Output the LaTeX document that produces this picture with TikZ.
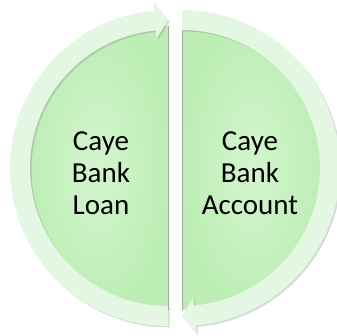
\documentclass[tikz,border=0pt]{standalone}
\usepackage{fontspec}
\setmainfont{Carlito}
\usetikzlibrary{shadows}
\definecolor{ringgreen}{RGB}{228,247,226}
\definecolor{discgreen}{RGB}{188,238,180}
\definecolor{disclight}{RGB}{212,245,206}
\begin{document}
\begin{tikzpicture}[x=1pt, y=1pt,
    ring/.style={fill=ringgreen, drop shadow={opacity=0.3, shadow xshift=1.5pt, shadow yshift=-1.5pt}},
    half/.style={inner color=disclight, outer color=discgreen},
    rim/.style={gray!70, line width=0.8pt},
    word/.style={font=\fontsize{29}{32}\selectfont, align=center}]
  \useasboundingbox (0,0) rectangle (337,335);
  \coordinate (L) at (168,167);
  \coordinate (R) at (182,167);
  % left half with its arrow
  \begin{scope}[shift={(L)}]
    \shade[half] (90:142) arc[start angle=90, end angle=270, radius=142] -- cycle;
    \draw[rim] (90:142) -- (270:142);
    \fill[ring] (270:158) arc[start angle=270, end angle=95, radius=158]
      -- (95:166) -- (90:148) -- (95:130) -- (95:138)
      arc[start angle=95, end angle=270, radius=138] -- cycle;
  \end{scope}
  % right half with its arrow
  \begin{scope}[shift={(R)}]
    \shade[half] (90:142) arc[start angle=90, end angle=-90, radius=142] -- cycle;
    \draw[rim] (90:142) -- (-90:142);
    \fill[ring] (90:158) arc[start angle=90, end angle=-85, radius=158]
      -- (-85:166) -- (-90:148) -- (-85:130) -- (-85:138)
      arc[start angle=-85, end angle=90, radius=138] -- cycle;
  \end{scope}
  \node[word] (loan) at (101,162) {Caye\\Bank\\Loan};
  \node[word] (account) at (250,162) {Caye\\Bank\\Account};
\end{tikzpicture}
\end{document}
